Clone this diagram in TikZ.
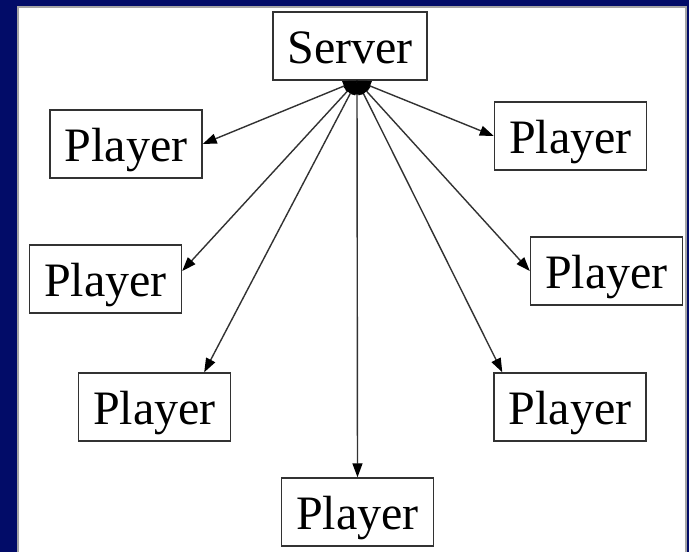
\documentclass[tikz,border=0pt]{standalone}
\usepackage{fontspec}
\setmainfont{Liberation Serif}
\newfontfamily\labelfont{Liberation Serif}
\usetikzlibrary{arrows.meta}
\definecolor{navy}{RGB}{2,12,104}
\definecolor{edgegrey}{RGB}{165,165,165}
\definecolor{linegrey}{RGB}{50,50,50}
\begin{document}
\begin{tikzpicture}[x=1pt,y=-1pt,
  box/.style={draw=linegrey, line width=1.4pt, fill=white, minimum width=152pt,
    inner sep=0pt, text height=52pt, text depth=16pt,
    font=\labelfont\fontsize{48}{48}\selectfont},
  tip/.style={Triangle[length=14pt,width=10pt,color=black]},
  link/.style={{Triangle[length=14pt,width=10pt,color=black]}-{Triangle[length=14pt,width=10pt,color=black]},
    line width=1.4pt, draw=linegrey}]
  % slide frame
  \fill[navy] (0,0) rectangle (689,552);
  \fill[white] (18,7) rectangle (686,552);
  \draw[edgegrey, line width=2pt] (18,552) -- (18,7) -- (686,7) -- (686,552);

  % nodes
  \node[box, minimum width=154pt] (srv) at (350,46) {Server};
  \node[box] (pl1) at (126,144) {Player};
  \node[box] (pl2) at (105.5,279) {Player};
  \node[box] (pl3) at (154.5,407) {Player};
  \node[box] (pb)  at (357.5,512) {Player};
  \node[box] (pr1) at (570.5,136) {Player};
  \node[box] (pr2) at (606.5,271) {Player};
  \node[box] (pr3) at (570,407) {Player};

  % common end point of the links under the server
  \coordinate (hub) at ([xshift=7pt]srv.south);

  % links
  \draw[link] (hub) -- (pl1.east);
  \draw[link] (hub) -- ([yshift=8pt]pl2.east);
  \draw[link] (hub) -- ([xshift=-27pt]pl3.north east);
  \draw[link] (hub) -- (pb.north);
  \draw[link] (hub) -- ([xshift=9pt]pr3.north west);
  \draw[link] (hub) -- (pr2.west);
  \draw[link] (hub) -- (pr1.west);
\end{tikzpicture}
\end{document}
